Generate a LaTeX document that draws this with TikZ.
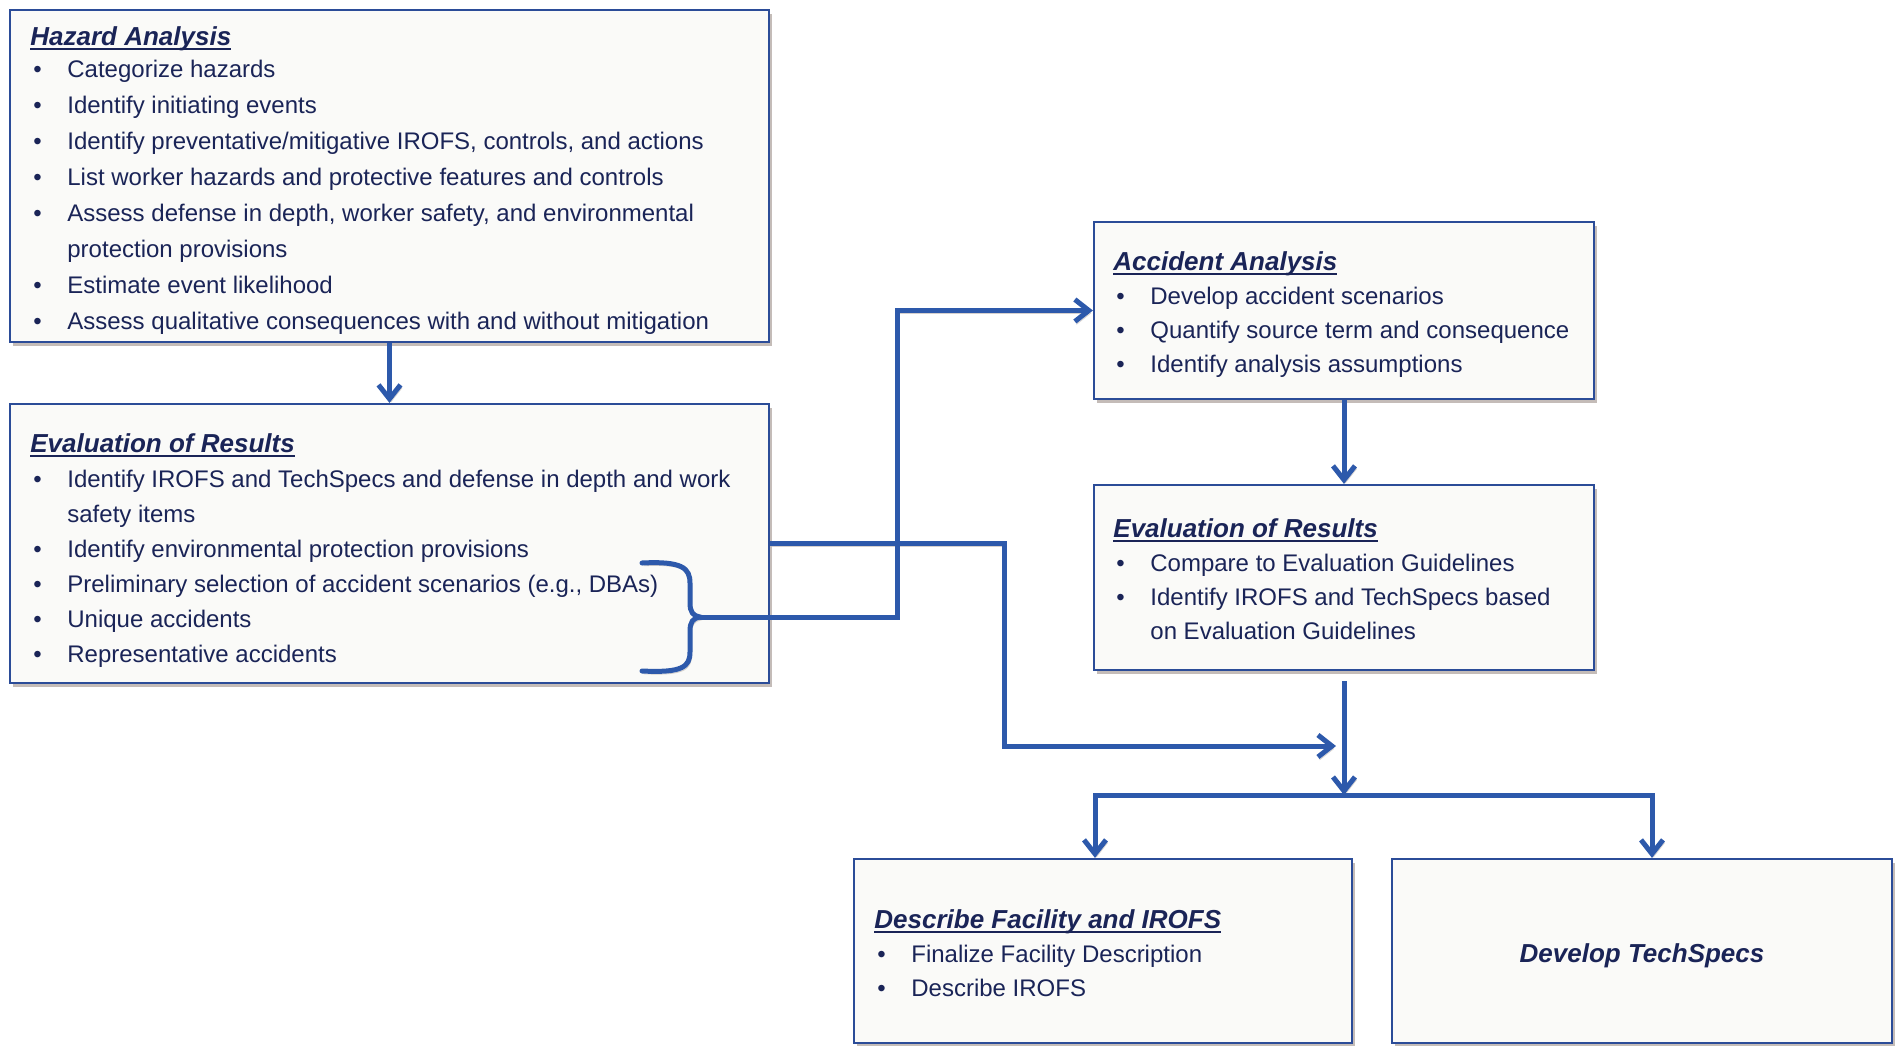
\documentclass[tikz,border=0pt]{standalone}
\usepackage{fontspec}
\setmainfont{Liberation Sans}
\usetikzlibrary{arrows.meta,shadows,fit,calc}
\definecolor{txtc}{HTML}{1A2457}
\definecolor{boxc}{HTML}{2B4C98}
\definecolor{linec}{HTML}{2D59AB}
\definecolor{fillc}{HTML}{FAFAF8}
\definecolor{shc}{HTML}{8A7B72}
\newcommand\ttl[1]{\setbox0=\hbox{#1}\rlap{\rule[-2.4pt]{\wd0}{1.1pt}}\box0}
\newcommand\hd[1]{\noindent{\fontsize{13}{17.5}\selectfont\bfseries\itshape\ttl{#1}}}
\newcommand\bx[1]{\par\noindent\makebox[18.5pt][l]{\hspace{1.5pt}\textbullet}#1}
\newcommand\bc[1]{\par\noindent\hspace*{18.5pt}#1}
\newcommand\blk[2]{\vtop{\hsize=420pt\parindent=0pt\parskip=0pt\fontsize{12}{#1}\selectfont #2\par}}
\tikzset{
  box/.style={draw=boxc, line width=1.1pt, fill=fillc, inner sep=0pt,
    drop shadow={shadow xshift=1.6pt, shadow yshift=-2pt, fill=shc, opacity=0.5}},
  txt/.style={inner sep=0pt, anchor=base west, text=txtc},
  conn/.style={draw=linec, line width=2.5pt, >={Straight Barb[length=7pt,width=11pt]},
    preaction={draw=shc, opacity=0.35, transform canvas={shift={(0.8pt,-1.4pt)}}}},
}
\begin{document}
\begin{tikzpicture}[x=0.5pt,y=-0.5pt]
\useasboundingbox (0,0) rectangle (1897,1045);
\fill[white] (0,0) rectangle (1897,1045);
% boxes
\node[box, fit={(10,10)(769,342)}] (haz) {};
\node[box, fit={(10,404)(769,683)}] (evl) {};
\node[box, fit={(1094,222)(1594,399)}] (acc) {};
\node[box, fit={(1094,485)(1594,670)}] (evr) {};
\node[box, fit={(854,859)(1352,1043)}] (desc) {};
\node[box, fit={(1392,859)(1892,1043)}] (dev) {};
% texts
\node[txt] (hazt) at (30,45) {\blk{18pt}{\hd{Hazard Analysis}\par\vskip-2pt\relax
  \bx{Categorize hazards}%
  \bx{Identify initiating events}%
  \bx{Identify preventative/mitigative IROFS, controls, and actions}%
  \bx{List worker hazards and protective features and controls}%
  \bx{Assess defense in depth, worker safety, and environmental}%
  \bc{protection provisions}%
  \bx{Estimate event likelihood}%
  \bx{Assess qualitative consequences with and without mitigation}}};
\node[txt] (evlt) at (30,452) {\blk{17.5pt}{\hd{Evaluation of Results}%
  \bx{Identify IROFS and TechSpecs and defense in depth and work}%
  \bc{safety items}%
  \bx{Identify environmental protection provisions}%
  \bx{Preliminary selection of accident scenarios (e.g., DBAs)}%
  \bx{Unique accidents}%
  \bx{Representative accidents}}};
\node[txt] (acct) at (1113,270) {\blk{17pt}{\hd{Accident Analysis}%
  \bx{Develop accident scenarios}%
  \bx{Quantify source term and consequence}%
  \bx{Identify analysis assumptions}}};
\node[txt] (evrt) at (1113,537) {\blk{17pt}{\hd{Evaluation of Results}%
  \bx{Compare to Evaluation Guidelines}%
  \bx{Identify IROFS and TechSpecs based}%
  \bc{on Evaluation Guidelines}}};
\node[txt] (desct) at (874,928) {\blk{17pt}{\hd{Describe Facility and IROFS}%
  \bx{Finalize Facility Description}%
  \bx{Describe IROFS}}};
\node[text=txtc, inner sep=0pt, font=\fontsize{13}{16}\selectfont\bfseries\itshape] (devt) at ($(dev.center)+(0,5)$) {Develop TechSpecs};
% helper coordinates
\coordinate (bt) at (700,617);
\coordinate (xa) at (1004,0);
\coordinate (xb) at (897,0);
\coordinate (ta) at (1336,746);
\coordinate (jl) at (1095,795);
\coordinate (jr) at (1652,795);
% brace
\draw[conn, line cap=round] (642,563) .. controls (682,561) and (690,568) .. (690,583)
  -- (690,603) .. controls (690,612) and (693,616) .. (bt)
  .. controls (693,618) and (690,622) .. (690,631)
  -- (690,652) .. controls (690,667) and (682,673) .. (642,671);
% connectors
\draw[conn,->] (haz.south) -- (evl.north);
\draw[conn,->] (acc.south) -- (evr.north);
\draw[conn,->] (evl.east) -| (xa |- ta) -- (ta);
\draw[conn,->] (bt) -| (xb |- acc.west) -- (acc.west);
\draw[conn,->, shorten <=5pt] (evr.south) -- (evr.south |- jl);
\draw[conn,<->] (jl |- desc.north) -- (jl) -- (jr) -- (jr |- dev.north);
\end{tikzpicture}
\end{document}
